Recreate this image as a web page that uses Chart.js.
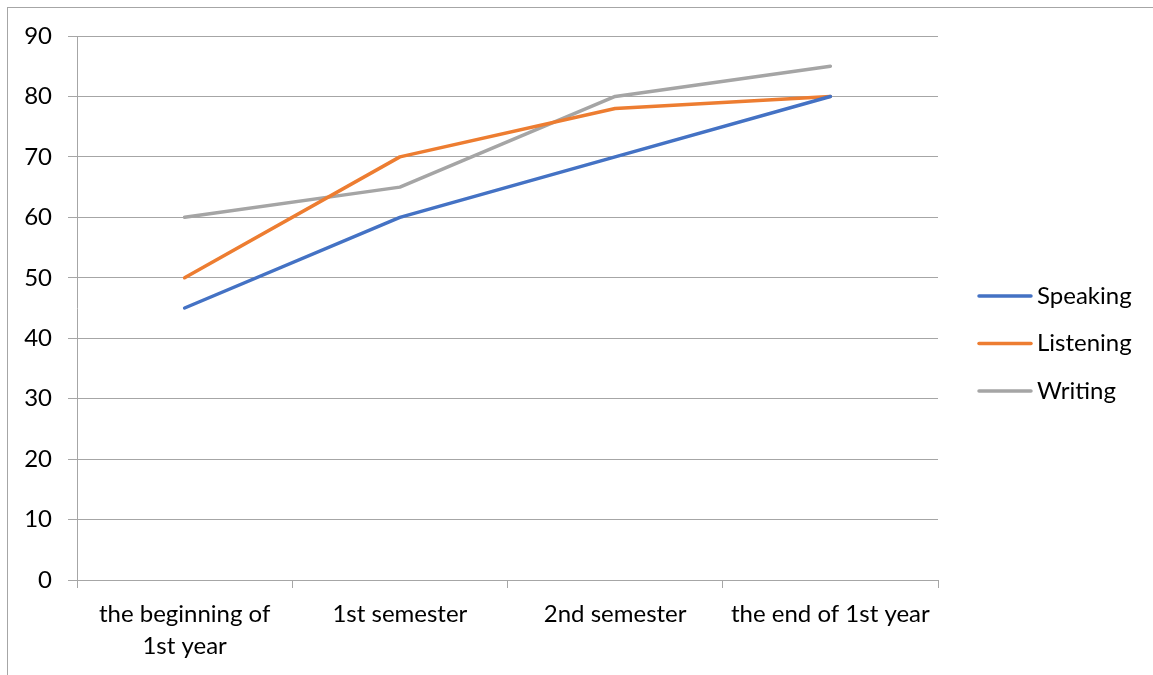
<!DOCTYPE html>
<html>
<head>
<meta charset="utf-8">
<script src="https://cdn.jsdelivr.net/npm/chart.js@4"></script>
<style>
  html, body { margin: 0; padding: 0; background: #fff; overflow: hidden; }
  #wrap { position: relative; width: 1153px; height: 675px; }
  #frame { position: absolute; left: 7px; top: 7px; width: 1160px; height: 680px; border: 1px solid #a6a6a6; box-sizing: border-box; }
  canvas { position: absolute; left: 0; top: 0; }
</style>
</head>
<body>
<div id="wrap">
  <div id="frame"></div>
  <canvas id="line-chart" width="1153" height="675"></canvas>
</div>
<script>
const categories = [["the beginning of", "1st year"], "1st semester", "2nd semester", "the end of 1st year"];
const seriesNames = ["Speaking", "Listening", "Writing"];
const speaking = [45, 60, 70, 80];
const listening = [50, 70, 78, 80];
const writing = [60, 65, 80, 85];
const yTicks = [0, 10, 20, 30, 40, 50, 60, 70, 80, 90];

const colors = ["#4472c4", "#ed7d31", "#a5a5a5"];
const gridColor = "#a6a6a6";
const fontFamily = "Lato, 'Open Sans', sans-serif";
const fontSize = 24;

// legend drawn at the right, like Excel does
const sideLegend = {
   id: 'sideLegend',
   afterDraw(chart) {
      const ctx = chart.ctx;
      const area = chart.chartArea;
      const x0 = area.right + 41;
      const gap = 47.5;
      const sets = chart.data.datasets;
      const midY = chart.height / 2 + 6;
      ctx.save();
      ctx.font = fontSize + "px " + fontFamily;
      ctx.textBaseline = 'middle';
      ctx.fillStyle = '#000';
      sets.forEach((ds, i) => {
         const y = midY + (i - (sets.length - 1) / 2) * gap;
         ctx.strokeStyle = ds.borderColor;
         ctx.lineWidth = 3.5;
         ctx.lineCap = 'round';
         ctx.beginPath();
         ctx.moveTo(x0, y);
         ctx.lineTo(x0 + 52, y);
         ctx.stroke();
         ctx.fillText(ds.label, x0 + 58, y);
      });
      ctx.restore();
   }
};

new Chart(document.getElementById("line-chart"), {
   type: 'line',
   data: {
      labels: categories,
      datasets: [speaking, listening, writing].map((vals, i) => ({
         label: seriesNames[i],
         data: vals,
         borderColor: colors[i],
         backgroundColor: colors[i],
         borderWidth: 3.5,
         borderCapStyle: 'round',
         borderJoinStyle: 'round',
         pointRadius: 0,
         tension: 0,
         fill: false
      }))
   },
   options: {
      responsive: false,
      animation: false,
      layout: { padding: { left: 0, top: 36, right: 215, bottom: 0 } },
      plugins: {
         legend: { display: false },
         tooltip: { enabled: false }
      },
      scales: {
         x: {
            offset: true,
            afterFit: (scale) => { scale.height = 95; },
            grid: {
               offset: true,
               drawOnChartArea: false,
               drawTicks: true,
               tickLength: 8,
               color: gridColor,
               lineWidth: 1
            },
            border: { color: gridColor, width: 1 },
            ticks: {
               autoSkip: false,
               maxRotation: 0,
               minRotation: 0,
               padding: 11,
               color: '#000',
               font: { family: fontFamily, size: fontSize, lineHeight: 1.3 }
            }
         },
         y: {
            min: 0,
            max: 90,
            afterFit: (scale) => { scale.width = 77; },
            afterBuildTicks: (scale) => { scale.ticks = yTicks.map(v => ({ value: v })); },
            grid: {
               color: gridColor,
               lineWidth: 1,
               drawTicks: true,
               tickLength: 9
            },
            border: { color: gridColor, width: 1 },
            ticks: {
               padding: 16,
               color: '#000',
               font: { family: fontFamily, size: fontSize }
            }
         }
      }
   },
   plugins: [sideLegend]
});
</script>
</body>
</html>
